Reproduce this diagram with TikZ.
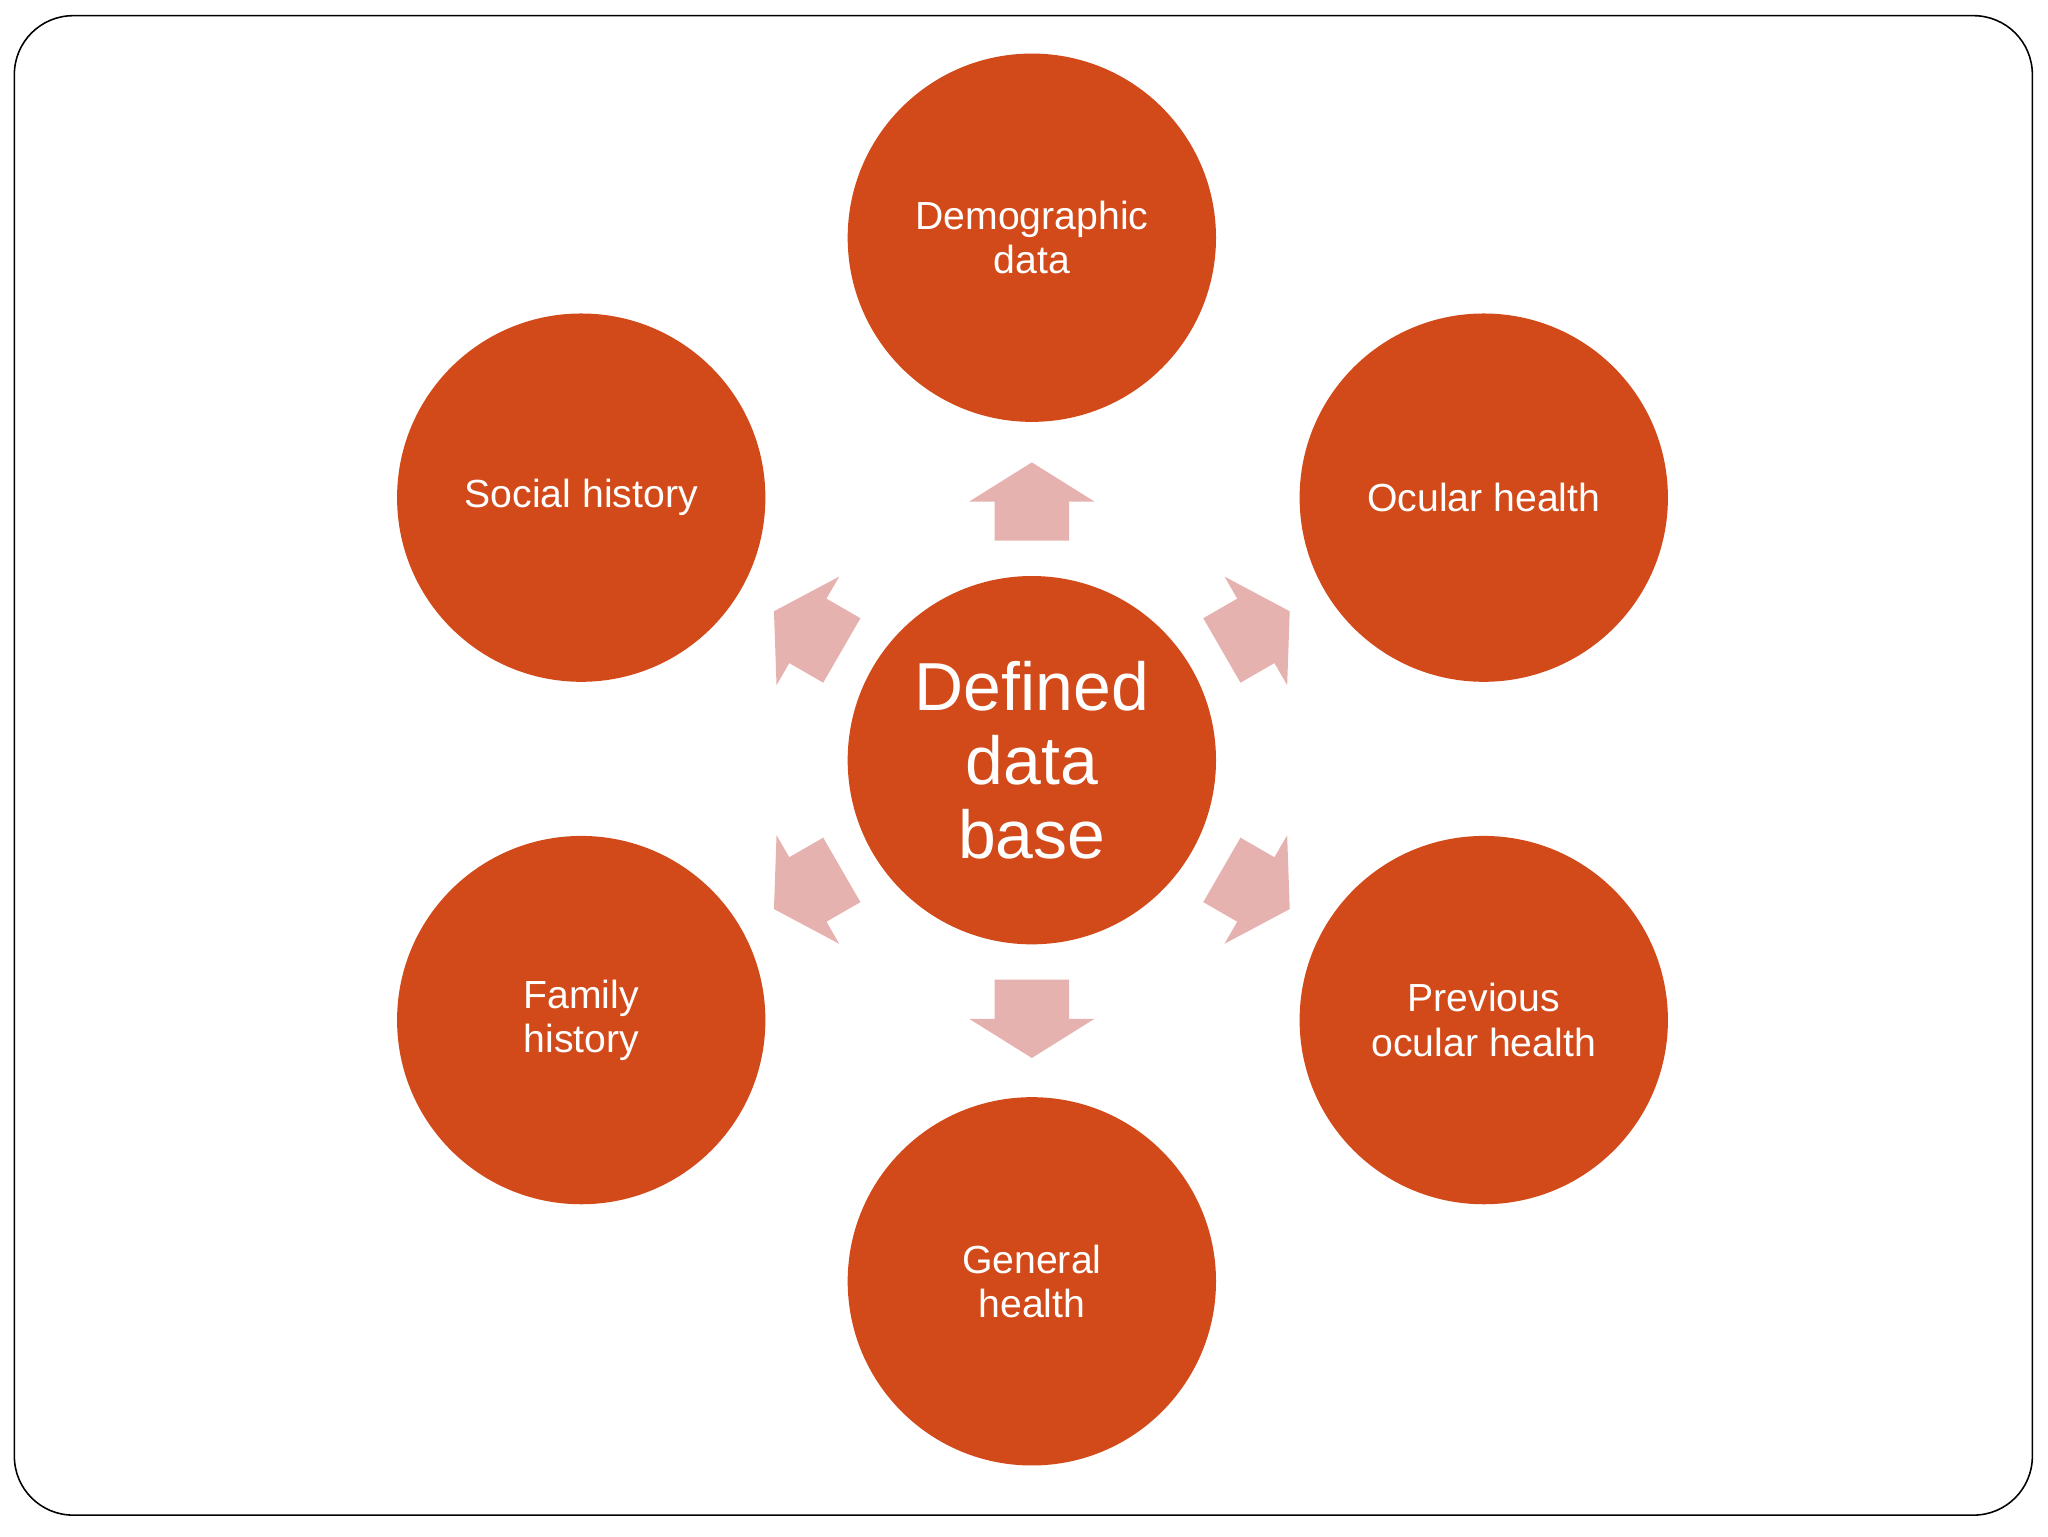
\documentclass[tikz,border=0pt]{standalone}
\usepackage{fontspec}
\setmainfont{Liberation Sans}
\definecolor{disc}{HTML}{D24A1A}
\definecolor{arr}{HTML}{E6B2AF}
\begin{document}
\begin{tikzpicture}[x=1pt,y=-1pt,
  disc/.style={circle,fill=disc,minimum size=282pt,inner sep=0pt,text=white,align=center,font=\fontsize{30}{34}\selectfont}]
\useasboundingbox (0,0) rectangle (1568,1176);
\draw[line width=1.2pt,rounded corners=45pt] (11,12) rectangle (1556,1160);
\node[disc,font=\fontsize{52}{57}\selectfont] (c) at (790,582) {Defined\\data\\base};
\node[disc] (d) at (790,182) {Demographic\\data};
\node[disc] (s) at (445,381) {Social history};
\node[disc] (o) at (1136,381) {Ocular health};
\node[disc] (f) at (445,781) {Family\\history};
\node[disc] (p) at (1136,781) {Previous\\ocular health};
\node[disc] (g) at (790,981) {General\\health};
\foreach \a in {90,30,-30,-90,210,150}{
  \begin{scope}[shift={(790,582)},rotate=-\a]
    \fill[arr] (168,-28.5) -- (198,-28.5) -- (198,-48) -- (228,0) -- (198,48) -- (198,28.5) -- (168,28.5) -- cycle;
  \end{scope}
}
\end{tikzpicture}
\end{document}
